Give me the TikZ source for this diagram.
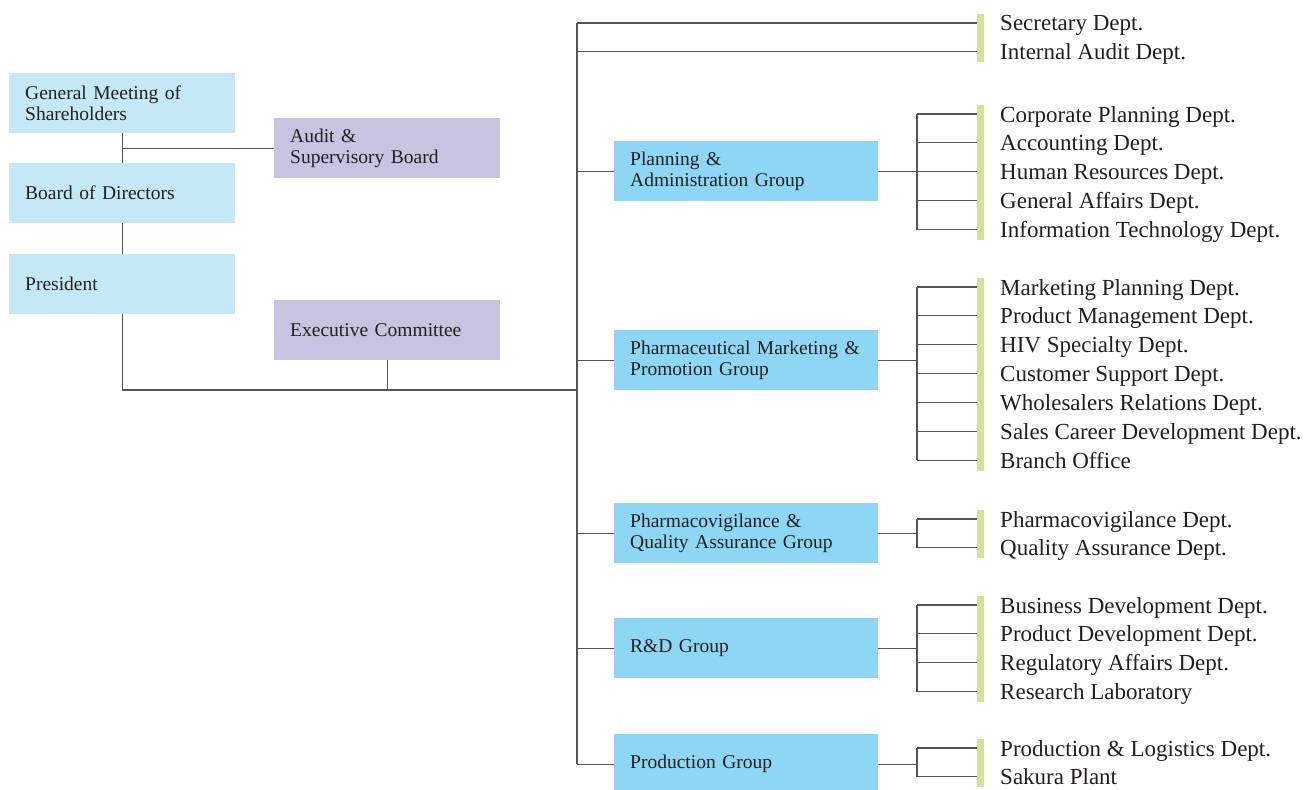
\documentclass[tikz,border=0pt]{standalone}
\usepackage{fontspec}
\setmainfont{Liberation Serif}
\definecolor{paleblue}{HTML}{C5E8F7}
\definecolor{lilac}{HTML}{C8C3E0}
\definecolor{groupblue}{HTML}{8DD7F5}
\definecolor{bargreen}{HTML}{D2E29A}
\definecolor{linegray}{HTML}{555555}
\definecolor{textdark}{HTML}{231F20}
\tikzset{
  box/.style={rectangle, anchor=north west, minimum height=60pt, text width=194pt,
    inner xsep=16pt, inner ysep=0pt, align=left, font=\fontsize{19.5}{21.5}\selectfont, text=textdark},
  topbox/.style={box, fill=paleblue},
  sidebox/.style={box, fill=lilac},
  groupbox/.style={box, fill=groupblue, text width=232pt},
  dept/.style={anchor=west, inner sep=0pt, text height=16pt, text depth=0pt,
    font=\fontsize{23}{29}\selectfont, text=textdark},
  gbar/.style={rectangle, fill=bargreen, inner sep=0pt, minimum width=7pt, anchor=north west},
  link/.style={draw=linegray, line width=1.1pt},
}
% one column of departments with its green bar
\newcommand\deptcolumn[3]{% #1 key, #2 first y, #3 names
  \foreach \txt [count=\i] in {#3}{%
    \node[dept] (d#1-\i) at (1000,{#2+(\i-1)*28.9}) {\txt};
    \xdef\deptcount{\i}}
  \node[gbar, minimum height={(\deptcount-1)*28.9+19}] (bar#1) at (977,#2-9) {};
}
\begin{document}
\begin{tikzpicture}[x=1pt,y=-1pt]
\useasboundingbox (0,0) rectangle (1305,789);
\clip (0,0) rectangle (1305,789);

% governance boxes
\node[topbox] (gm) at (9,73) {General Meeting of\\Shareholders};
\node[topbox] (bod) at (9,163) {Board of Directors};
\node[topbox] (pres) at (9,254) {President};
\node[sidebox] (audit) at (274,118) {Audit \&\\Supervisory Board};
\node[sidebox] (exec) at (274,300) {Executive Committee};

% groups
\node[groupbox] (g1) at (614,141) {Planning \&\\Administration Group};
\node[groupbox] (g2) at (614,330) {Pharmaceutical Marketing \&\\Promotion Group};
\node[groupbox] (g3) at (614,503) {Pharmacovigilance \&\\Quality Assurance Group};
\node[groupbox] (g4) at (614,618) {R\&D Group};
\node[groupbox] (g5) at (614,734) {Production Group};

% departments
\deptcolumn{0}{23}{Secretary Dept., Internal Audit Dept.}
\deptcolumn{1}{114}{Corporate Planning Dept., Accounting Dept., Human Resources Dept.,
  General Affairs Dept., Information Technology Dept.}
\deptcolumn{2}{287}{Marketing Planning Dept., Product Management Dept., HIV Specialty Dept.,
  Customer Support Dept., Wholesalers Relations Dept., Sales Career Development Dept., Branch Office}
\deptcolumn{3}{519}{Pharmacovigilance Dept., Quality Assurance Dept.}
\deptcolumn{4}{605}{Business Development Dept., Product Development Dept.,
  Regulatory Affairs Dept., Research Laboratory}
\deptcolumn{5}{748}{Production \& Logistics Dept., Sakura Plant}

% reference points for the trunk and the branch junctions
\coordinate (trunk) at (577,390);
\coordinate (jx) at (917,0);

% governance links
\draw[link] (gm.south) -- (bod.north);
\draw[link] (bod.south) -- (pres.north);
\draw[link] (gm.south |- audit.west) -- (audit.west);
\draw[link] (pres.south) |- (trunk);
\draw[link] (exec.south) -- (exec.south |- trunk);

% main trunk
\draw[link] (trunk |- d0-1.west) -- (trunk |- g5.west);
\foreach \i in {1,2}
  \draw[link] (trunk |- d0-\i.west) -- (bar0.west |- d0-\i.west);
\foreach \k in {1,...,5}
  \draw[link] (trunk |- g\k.west) -- (g\k.west);

% group to department branches
\foreach \k/\n in {1/5, 2/7, 3/2, 4/4, 5/2}{
  \draw[link] (g\k.east) -- (jx |- g\k.east);
  \draw[link] (jx |- d\k-1.west) -- (jx |- d\k-\n.west);
  \foreach \i in {1,...,\n}
    \draw[link] (jx |- d\k-\i.west) -- (bar\k.west |- d\k-\i.west);
}
\end{tikzpicture}
\end{document}
